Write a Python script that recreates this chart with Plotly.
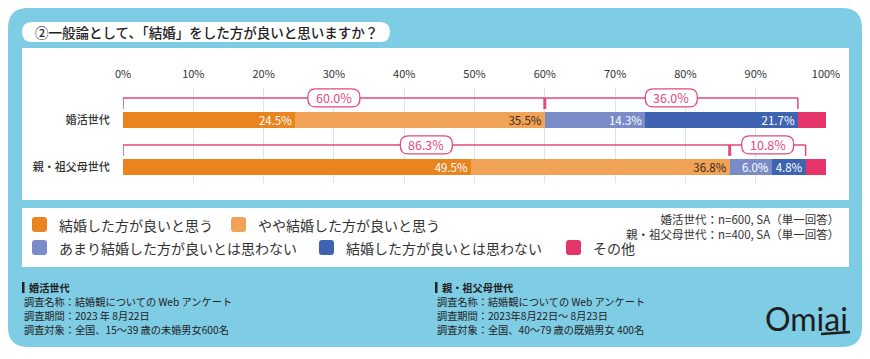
import plotly.graph_objects as go

# ---------------- data ----------------
categories = ["婚活世代", "親・祖父母世代"]
series_names = ["結婚した方が良いと思う", "やや結婚した方が良いと思う",
                "あまり結婚した方が良いとは思わない", "結婚した方が良いとは思わない", "その他"]
s1 = [24.5, 49.5]   # 結婚した方が良いと思う
s2 = [35.5, 36.8]   # やや結婚した方が良いと思う
s3 = [14.3, 6.0]    # あまり結婚した方が良いとは思わない
s4 = [21.7, 4.8]    # 結婚した方が良いとは思わない
s5 = [4.0, 2.9]     # その他
tick_vals = list(range(0, 101, 10))
tick_text = [f"{v}%" for v in tick_vals]
title_text = "②一般論として、「結婚」をした方が良いと思いますか？"
sample_notes = ["婚活世代：n=600, SA（単一回答）", "親・祖父母世代：n=400, SA（単一回答）"]
footer_left = ["婚活世代", "調査名称：結婚観についての Web アンケート", "調査期間：2023 年 8月22日",
               "調査対象：全国、15～39 歳の未婚男女600名"]
footer_right = ["親・祖父母世代", "調査名称：結婚観についての Web アンケート", "調査期間：2023年8月22日～ 8月23日",
                "調査対象：全国、40～79 歳の既婚男女 400名"]

# ---------------- style ----------------
W, H = 870, 359
FONT = "Noto Sans CJK JP"
colors = ["#E9841F", "#F0A356", "#7B8BC8", "#3E63B1", "#E6356B"]
label_colors = ["white", "#3A2A1A", "white", "white", None]
PINK = "#E2497D"
BLUE_BG = "#7FCCE5"
TXT = "#333333"

def px(x):
    return x / W

def py(y):
    return 1 - y / H

def rrect(x0, y0, x1, y1, r):
    rx, ry = r / W, r / H
    X0, X1 = px(x0), px(x1)
    Y0, Y1 = py(y0), py(y1)  # Y0 top (bigger)
    return (f"M {X0+rx},{Y0} L {X1-rx},{Y0} Q {X1},{Y0} {X1},{Y0-ry} "
            f"L {X1},{Y1+ry} Q {X1},{Y1} {X1-rx},{Y1} L {X0+rx},{Y1} "
            f"Q {X0},{Y1} {X0},{Y1+ry} L {X0},{Y0-ry} Q {X0},{Y0} {X0+rx},{Y0} Z")

shapes = []
annotations = []

# background panels
shapes.append(dict(type="path", path=rrect(8, 8, 862, 347, 20), xref="paper", yref="paper",
                   fillcolor=BLUE_BG, line_width=0, layer="below"))
shapes.append(dict(type="path", path=rrect(22, 48, 849, 200, 0.01), xref="paper", yref="paper",
                   fillcolor="white", line_width=0, layer="below"))
shapes.append(dict(type="path", path=rrect(22, 208, 849, 267, 0.01), xref="paper", yref="paper",
                   fillcolor="white", line_width=0, layer="below"))
shapes.append(dict(type="path", path=rrect(22, 22, 390, 42, 10), xref="paper", yref="paper",
                   fillcolor="white", line_width=0, layer="below"))

annotations.append(dict(text=title_text, x=px(33), y=py(32), xref="paper", yref="paper",
                        xanchor="left", yanchor="middle", showarrow=False,
                        font=dict(family=FONT, size=13.5, color="#222222", weight=500)))

# ---------------- bars ----------------
fig = go.Figure()
all_series = [s1, s2, s3, s4, s5]
for name, vals, col, lc in zip(series_names, all_series, colors, label_colors):
    fig.add_trace(go.Bar(
        y=categories, x=vals, orientation="h", name=name, width=0.34,
        marker=dict(color=col, line_width=0),
        text=[f"{v:.1f}%" for v in vals] if lc else None,
        textposition="inside" if lc else "none", insidetextanchor="end",
        constraintext="none", cliponaxis=False,
        textfont=dict(family=FONT, size=11.5, color=lc if lc else "white"),
        showlegend=False, hoverinfo="skip",
    ))

# ---------------- brackets ----------------
line_off = -0.47
tick_end = -0.235
for i, cat in enumerate(categories):
    pos = s1[i] + s2[i]
    neg = s3[i] + s4[i]
    yl = i + line_off
    yt = i + tick_end
    shapes.append(dict(type="line", xref="x", yref="y", x0=0, x1=pos + neg, y0=yl, y1=yl,
                       line=dict(color=PINK, width=1.5)))
    shapes.append(dict(type="line", xref="x", yref="y", x0=0, x1=0, y0=yl, y1=yt,
                       line=dict(color=PINK, width=1.5)))
    shapes.append(dict(type="line", xref="x", yref="y", x0=pos + neg, x1=pos + neg, y0=yl, y1=yt,
                       line=dict(color=PINK, width=1.5)))
    shapes.append(dict(type="line", xref="x", yref="y", x0=pos, x1=pos, y0=yl, y1=yt,
                       line=dict(color=PINK, width=3)))
    for a, b in [(0, pos), (pos, pos + neg)]:
        mid = (a + b) / 2
        w, h, r = 26, 9, 8
        path = (f"M {-w+r},{-h} L {w-r},{-h} Q {w},{-h} {w},{-h+r} L {w},{h-r} Q {w},{h} {w-r},{h} "
                f"L {-w+r},{h} Q {-w},{h} {-w},{h-r} L {-w},{-h+r} Q {-w},{-h} {-w+r},{-h} Z")
        shapes.append(dict(type="path", xref="x", yref="y", xsizemode="pixel", ysizemode="pixel",
                           xanchor=mid, yanchor=yl, path=path, fillcolor="white",
                           line=dict(color=PINK, width=1.3)))
        annotations.append(dict(text=f"{b - a:.1f}%", x=mid, y=yl, xref="x", yref="y",
                                showarrow=False, xanchor="center", yanchor="middle",
                                font=dict(family=FONT, size=12.5, color=PINK)))

# ---------------- legend (manual) ----------------
legend_pos = [(32, 224.5), (231, 224.5), (32, 247.5), (319, 247.5), (566, 247.5)]
for name, col, (lx, ly) in zip(series_names, colors, legend_pos):
    shapes.append(dict(type="path", path=rrect(lx, ly - 7.5, lx + 15, ly + 7.5, 3),
                       xref="paper", yref="paper", fillcolor=col, line_width=0))
    annotations.append(dict(text=name, x=px(lx + 25), y=py(ly), xref="paper", yref="paper",
                            xanchor="left", yanchor="middle", showarrow=False,
                            font=dict(family=FONT, size=14, color=TXT)))

annotations.append(dict(text="<br>".join(sample_notes), x=px(841), y=py(226.5), xref="paper", yref="paper",
                        xanchor="right", yanchor="middle", align="right", showarrow=False,
                        font=dict(family=FONT, size=11.5, color=TXT)))

# ---------------- footer ----------------
for x0, lines in [(22, footer_left), (435, footer_right)]:
    shapes.append(dict(type="rect", xref="paper", yref="paper", x0=px(x0), x1=px(x0 + 2.5),
                       y0=py(293), y1=py(282), fillcolor="#222222", line_width=0))
    for k, t in enumerate(lines):
        annotations.append(dict(text=f"<b>{t}</b>" if k == 0 else t,
                                x=px(x0 + 5 if k == 0 else x0), y=py(287 + 14 * k),
                                xref="paper", yref="paper", xanchor="left", yanchor="middle",
                                showarrow=False, font=dict(family=FONT, size=10.2, color="#222222")))

annotations.append(dict(text="Omiai", x=px(806), y=py(318), xref="paper", yref="paper",
                        xanchor="center", yanchor="middle", showarrow=False,
                        font=dict(family="Lato", size=32, color="#1E1E1E")))
shapes.append(dict(type="line", xref="paper", yref="paper", x0=px(821), x1=px(850), y0=py(334), y1=py(332),
                   line=dict(color="#1E1E1E", width=2.5)))

fig.update_layout(
    width=W, height=H, margin=dict(l=0, r=0, t=0, b=0, pad=0, autoexpand=False), autosize=False,
    paper_bgcolor="white", plot_bgcolor="rgba(0,0,0,0)",
    barmode="stack", showlegend=False,
    shapes=shapes, annotations=annotations,
    xaxis=dict(domain=[px(123), px(826)], range=[0, 100], side="top", automargin=False,
               tickvals=tick_vals, ticktext=tick_text,
               showgrid=True, gridcolor="#D3E9F2", gridwidth=1, zeroline=False, showline=False,
               ticks="outside", ticklen=5, tickcolor="rgba(0,0,0,0)",
               tickfont=dict(family=FONT, size=11, color=TXT), fixedrange=True),
    yaxis=dict(domain=[py(183), py(88)], type="category", range=[1.340, -0.681], automargin=False,
               showgrid=False, zeroline=False, showline=False,
               ticks="outside", ticklen=10, tickcolor="rgba(0,0,0,0)",
               tickfont=dict(family=FONT, size=11, color=TXT, weight=500), fixedrange=True),
)

fig.write_html("out.html", config={"responsive": False, "displayModeBar": False},
               post_script="document.body.style.margin='0';document.documentElement.style.overflow='hidden';")
